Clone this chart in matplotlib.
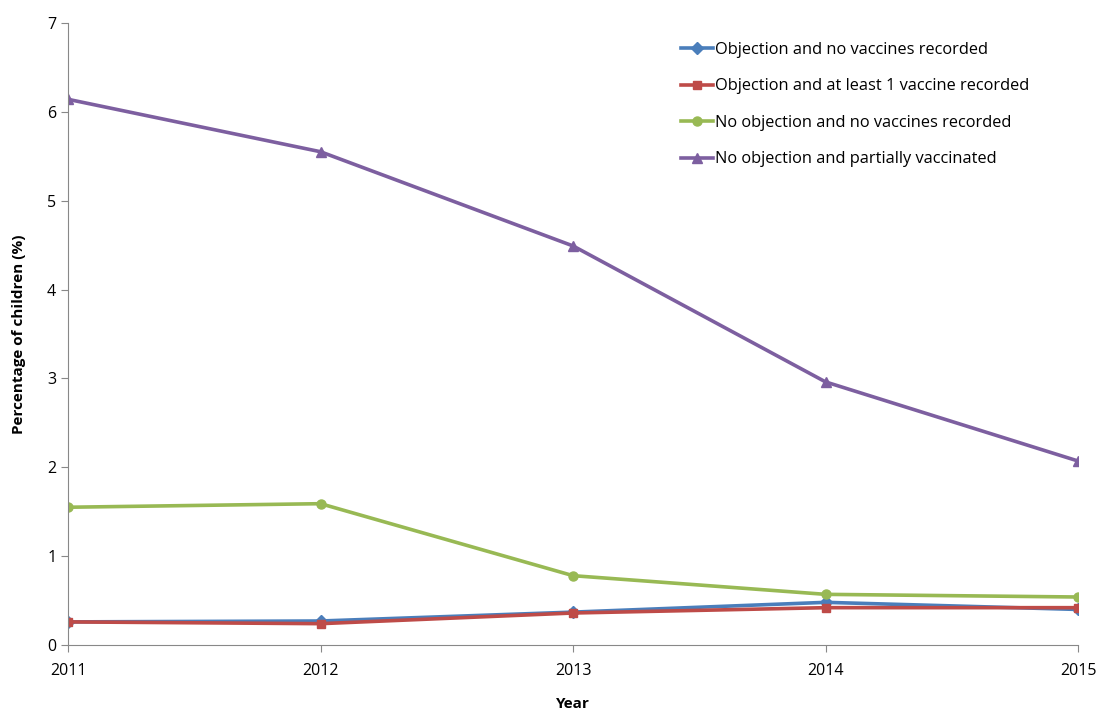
import matplotlib
matplotlib.use("Agg")
import matplotlib.pyplot as plt

years = [2011, 2012, 2013, 2014, 2015]
objection_none = [0.26, 0.27, 0.37, 0.48, 0.40]
objection_some = [0.26, 0.24, 0.36, 0.42, 0.42]
no_objection_none = [1.55, 1.59, 0.78, 0.57, 0.54]
no_objection_partial = [6.14, 5.55, 4.49, 2.96, 2.07]

labels = [
    "Objection and no vaccines recorded",
    "Objection and at least 1 vaccine recorded",
    "No objection and no vaccines recorded",
    "No objection and partially vaccinated",
]

plt.rcParams['font.family'] = ['Open Sans', 'DejaVu Sans']

fig = plt.figure(figsize=(10.99, 7.15), dpi=100)
ax = fig.add_axes([0.0619, 0.0979, 0.9191, 0.8701])

series = [
    (objection_none, '#4A7EBB', 'D', 6),
    (objection_some, '#BE4B48', 's', 6),
    (no_objection_none, '#98B954', 'o', 6.5),
    (no_objection_partial, '#7D5FA0', '^', 7),
]
for (vals, color, marker, ms), label in zip(series, labels):
    ax.plot(years, vals, color=color, marker=marker, markersize=ms,
            linewidth=2.6, label=label)

ax.set_xlim(2011, 2015)
ax.set_ylim(0, 7)
ax.set_xticks(years)
ax.set_yticks(range(0, 8))
ax.tick_params(direction='out', length=5, color='#888888', labelsize=11.5)
ax.tick_params(axis='x', pad=8)

for side in ['top', 'right']:
    ax.spines[side].set_visible(False)
for side in ['left', 'bottom']:
    ax.spines[side].set_color('#888888')

ax.set_xlabel('Year', fontsize=11, fontweight='bold', labelpad=13)
ax.set_ylabel('Percentage of children (%)', fontsize=11, fontweight='bold', labelpad=15)

ax.legend(loc='upper left', bbox_to_anchor=(0.60, 0.98), frameon=False,
          fontsize=11.8, labelspacing=1.25, handlelength=2.0, handletextpad=0.1,
          borderaxespad=0)

fig.savefig('out.png', dpi=100)
